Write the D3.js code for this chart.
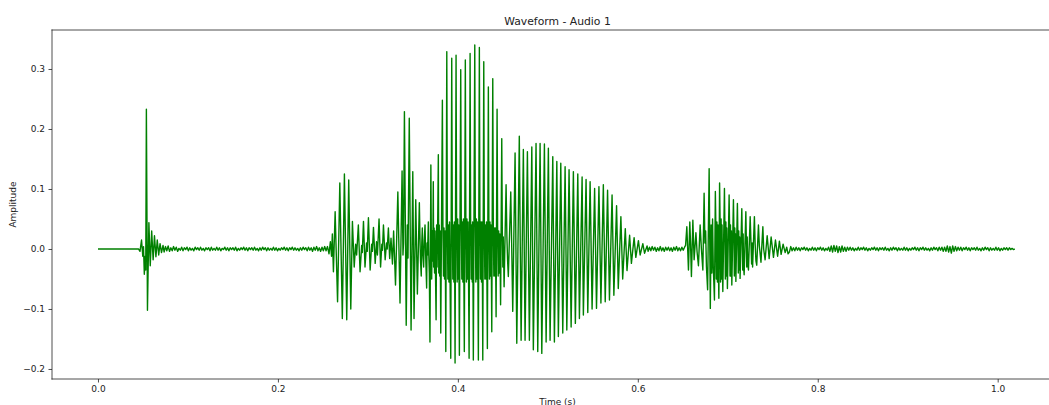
<!DOCTYPE html>
<html>
<head>
<meta charset="utf-8">
<script src="https://cdn.jsdelivr.net/npm/d3@7"></script>
<style>
  html, body { margin: 0; padding: 0; background: #fff; overflow: hidden; }
  svg { display: block; overflow: hidden; font-family: "DejaVu Sans", sans-serif; }
</style>
</head>
<body>
<svg id="chart" width="1049" height="405"></svg>
<script>
// Waveform of "Audio 1".
// Voiced sections: [time (s), amplitude] pairs at the turning points of the trace.
// Quiet sections: amplitudes in thousandths, one every sampleStep seconds from their start time.
const sampleStep = 0.0015;

const leadIn = [[0.0, 0.0], [0.045, 0.0]];

const onsetClick = [
  [0.0467, -0.004], [0.0484, 0.015], [0.0498, -0.012], [0.0506, 0.004], [0.0515, -0.042],
  [0.0525, -0.012], [0.0531, -0.035], [0.0538, 0.233], [0.0550, -0.102], [0.0566, 0.044],
  [0.0581, -0.028], [0.0597, 0.030], [0.0613, -0.018], [0.0628, 0.022], [0.0644, -0.013],
  [0.0659, 0.015], [0.0675, -0.010], [0.0690, 0.009], [0.0706, -0.006], [0.0723, 0.006]
];

const noiseBeforeStart = 0.0735;
const noiseBeforeMilli = [
  -5, 4, -3, 5, -4, 2, -3, 4, -2, 3, -4, 1, -2, 3, -3, 2, -1, 3, -3, 2,
  -2, 1, -3, 3, -1, 2, -2, 3, -2, 1, -3, 2, -1, 2, -3, 3, -2, 1, -2, 3,
  -2, 2, -3, 1, -1, 3, -2, 2, -3, 2, -1, 2, -2, 3, -3, 1, -2, 2, -1, 3,
  -2, 2, -3, 2, -1, 2, -2, 3, -2, 1, -3, 2, -2, 3, -1, 2, -3, 2, -2, 1,
  -2, 3, -2, 2, -3, 1, -2, 2, -1, 3, -2, 2, -3, 2, -1, 3, -2, 2, -2, 1,
  -3, 2, -2, 3, -1, 2, -3, 3, -2, 2, -4, 3, -2, 4, -3, 2, -4, 3, -3, 4, -3
];

const syllableOne = [
  [0.2551, 0.004], [0.2568, -0.008], [0.2583, 0.012], [0.2596, -0.012], [0.2605, 0.025],
  [0.2617, -0.038], [0.2636, 0.062], [0.2663, -0.088], [0.2688, 0.110], [0.2716, -0.116],
  [0.2739, 0.125], [0.2765, -0.118], [0.2787, 0.115], [0.2810, -0.100], [0.2828, 0.046],
  [0.2848, -0.030], [0.2864, 0.008], [0.2875, -0.010], [0.2894, 0.040], [0.2913, -0.038],
  [0.2931, 0.006], [0.2938, -0.006], [0.2951, 0.046], [0.2968, -0.030], [0.2985, 0.010],
  [0.2993, -0.004], [0.3006, 0.052], [0.3025, -0.035], [0.3042, 0.008], [0.3050, -0.004],
  [0.3062, 0.036], [0.3081, -0.024], [0.3096, 0.012], [0.3106, -0.010], [0.3124, 0.050],
  [0.3141, -0.030], [0.3155, 0.008], [0.3162, -0.002], [0.3173, 0.040], [0.3192, -0.018],
  [0.3207, 0.010], [0.3215, 0.000], [0.3228, 0.035], [0.3242, -0.016], [0.3257, 0.018],
  [0.3273, -0.025]
];

const syllableTwo = [
  [0.3286, 0.030], [0.3307, -0.060], [0.3333, 0.095], [0.3357, -0.090], [0.3380, 0.130],
  [0.3390, -0.010], [0.3396, 0.010], [0.3406, 0.229], [0.3426, -0.127], [0.3438, 0.040],
  [0.3446, -0.015], [0.3460, 0.218], [0.3480, -0.135], [0.3499, 0.129], [0.3513, -0.116],
  [0.3532, 0.082], [0.3550, -0.075], [0.3572, 0.077], [0.3580, 0.010], [0.3585, -0.020],
  [0.3593, -0.045], [0.3599, 0.010], [0.3605, 0.035], [0.3612, -0.010], [0.3620, -0.030],
  [0.3627, 0.015], [0.3635, 0.040], [0.3644, -0.020], [0.3653, -0.065], [0.3658, 0.010],
  [0.3663, -0.010], [0.3672, 0.045], [0.3677, -0.010], [0.3683, -0.040], [0.3690, -0.155],
  [0.3700, 0.140], [0.3705, 0.020], [0.3709, -0.050], [0.3715, 0.030], [0.3721, -0.020],
  [0.3727, 0.112], [0.3731, -0.030], [0.3736, 0.035], [0.3741, -0.040], [0.3746, 0.030],
  [0.3751, -0.035], [0.3758, -0.118], [0.3764, 0.040], [0.3769, -0.030], [0.3775, 0.030],
  [0.3783, 0.157], [0.3788, -0.040], [0.3793, 0.040], [0.3798, -0.045], [0.3803, 0.030],
  [0.3810, -0.140], [0.3828, 0.248], [0.3834, 0.040], [0.3840, -0.045], [0.3846, 0.035], [0.3852, -0.050], [0.3858, 0.030], [0.3862, -0.040],
  [0.3866, -0.171], [0.3877, 0.329], [0.3883, 0.045], [0.3889, -0.050], [0.3895, 0.040], [0.3901, -0.055], [0.3907, 0.045], [0.3913, -0.045],
  [0.3921, -0.182], [0.3932, 0.318], [0.3938, 0.050], [0.3944, -0.050], [0.3950, 0.040], [0.3956, -0.055], [0.3961, 0.045], [0.3965, -0.050],
  [0.3969, -0.190], [0.3980, 0.323], [0.3986, 0.045], [0.3992, -0.055], [0.3998, 0.050], [0.4004, -0.050], [0.4009, 0.040], [0.4013, -0.055],
  [0.4017, -0.177], [0.4032, 0.299], [0.4038, 0.050], [0.4044, -0.050], [0.4050, 0.045], [0.4056, -0.055], [0.4062, 0.050], [0.4067, -0.050],
  [0.4072, -0.171], [0.4083, 0.315], [0.4089, 0.045], [0.4095, -0.055], [0.4101, 0.050], [0.4107, -0.050], [0.4113, 0.045], [0.4119, -0.055],
  [0.4125, -0.182], [0.4136, 0.326], [0.4142, 0.050], [0.4148, -0.050], [0.4154, 0.040], [0.4160, -0.055], [0.4164, 0.045], [0.4168, -0.050],
  [0.4172, -0.185], [0.4188, 0.340], [0.4194, 0.045], [0.4200, -0.055], [0.4206, 0.050], [0.4212, -0.050], [0.4218, 0.045], [0.4223, -0.055],
  [0.4228, -0.185], [0.4239, 0.336], [0.4245, 0.050], [0.4251, -0.050], [0.4257, 0.045], [0.4263, -0.055], [0.4268, 0.045], [0.4273, -0.050],
  [0.4277, -0.185], [0.4288, 0.312], [0.4294, 0.045], [0.4300, -0.050], [0.4306, 0.040], [0.4312, -0.050], [0.4318, 0.045], [0.4323, -0.050],
  [0.4328, -0.166], [0.4339, 0.270], [0.4345, 0.040], [0.4351, -0.050], [0.4357, 0.045], [0.4363, -0.045], [0.4368, 0.040], [0.4373, -0.050],
  [0.4377, -0.138], [0.4388, 0.284], [0.4394, 0.040], [0.4400, -0.045], [0.4406, 0.035], [0.4412, -0.045], [0.4417, 0.035], [0.4421, -0.040],
  [0.4425, -0.113], [0.4436, 0.233], [0.4442, 0.035], [0.4448, -0.045], [0.4454, 0.030], [0.4460, -0.040], [0.4466, 0.025], [0.4471, -0.035],
  [0.4475, -0.093], [0.4488, 0.184], [0.4494, 0.030], [0.4500, -0.030], [0.4505, 0.020], [0.4510, -0.025],
  [0.4514, -0.063], [0.4536, 0.107], [0.4545, 0.020], [0.4553, -0.020],
  [0.4561, -0.046], [0.4588, 0.095], [0.4598, 0.010],
  [0.4610, -0.104], [0.4636, 0.160],
  [0.4655, -0.157], [0.4683, 0.188]
];

const syllableThree = [
  [0.4703, -0.152], [0.4728, 0.166], [0.4747, -0.152], [0.4773, 0.162], [0.4795, -0.152],
  [0.4822, 0.170], [0.4839, -0.168], [0.4869, 0.176], [0.4888, -0.171], [0.4914, 0.176],
  [0.4933, -0.174], [0.4962, 0.175], [0.4981, -0.155], [0.5006, 0.168], [0.5025, -0.152],
  [0.5055, 0.154], [0.5073, -0.155], [0.5100, 0.146], [0.5117, -0.146], [0.5144, 0.143],
  [0.5166, -0.140], [0.5192, 0.137], [0.5211, -0.135], [0.5236, 0.132], [0.5259, -0.130],
  [0.5284, 0.129], [0.5306, -0.124], [0.5333, 0.125], [0.5351, -0.116], [0.5381, 0.120],
  [0.5395, -0.110], [0.5425, 0.116], [0.5444, -0.106], [0.5470, 0.112], [0.5492, -0.100],
  [0.5520, 0.101], [0.5541, -0.099], [0.5568, 0.104], [0.5590, -0.090], [0.5617, 0.107],
  [0.5638, -0.088], [0.5664, 0.098], [0.5685, -0.085], [0.5714, 0.090], [0.5734, -0.077],
  [0.5764, 0.072], [0.5783, -0.066], [0.5812, 0.054], [0.5832, -0.050], [0.5861, 0.034],
  [0.5880, -0.036], [0.5909, 0.023], [0.5929, -0.024], [0.5959, 0.019], [0.5978, -0.014],
  [0.6007, 0.014], [0.6026, -0.010], [0.6056, 0.009], [0.6075, -0.007], [0.6103, 0.005]
];

const noiseMiddleStart = 0.6115;
const noiseMiddleMilli = [
  -4, 3, -3, 4, -2, 3, -4, 2, -3, 4, -3, 2, -4, 3, -2, 3, -3, 2, -4, 3, -2, 4, -3, 2, -3, 3, -2, 3
];

const syllableFour = [
  [0.6531, 0.006], [0.6545, 0.037], [0.6563, -0.035], [0.6578, 0.045], [0.6586, 0.010],
  [0.6596, -0.046], [0.6612, 0.048], [0.6626, -0.018], [0.6646, 0.027], [0.6659, -0.005],
  [0.6674, -0.028], [0.6693, 0.040], [0.6707, 0.000], [0.6723, -0.035], [0.6737, 0.093],
  [0.6746, 0.010], [0.6754, 0.030], [0.6763, -0.030], [0.6776, -0.068], [0.6793, 0.134],
  [0.6806, -0.099], [0.6815, 0.040], [0.6823, -0.040], [0.6831, 0.050], [0.6839, -0.030],
  [0.6852, -0.085], [0.6862, 0.096], [0.6868, 0.035], [0.6873, -0.050], [0.6879, 0.045], [0.6885, -0.055], [0.6891, 0.040], [0.6896, -0.035],
  [0.6901, -0.082], [0.6909, 0.110], [0.6915, 0.045], [0.6920, -0.055], [0.6926, 0.050], [0.6931, -0.050], [0.6936, 0.040], [0.6941, -0.035],
  [0.6945, -0.071], [0.6963, 0.101], [0.6968, 0.040], [0.6973, -0.050], [0.6979, 0.045], [0.6984, -0.045], [0.6989, 0.035], [0.6993, -0.030],
  [0.6996, -0.066], [0.7015, 0.090], [0.7020, 0.040], [0.7025, -0.045], [0.7030, 0.040], [0.7035, -0.045], [0.7040, 0.030],
  [0.7045, -0.060], [0.7063, 0.082], [0.7068, 0.035], [0.7073, -0.045], [0.7078, 0.035], [0.7083, -0.040], [0.7087, 0.025],
  [0.7090, -0.054], [0.7107, 0.076], [0.7112, 0.030], [0.7117, -0.040], [0.7122, 0.030], [0.7127, -0.035], [0.7132, 0.020],
  [0.7137, -0.049], [0.7156, 0.067], [0.7161, 0.025], [0.7166, -0.035], [0.7171, 0.025], [0.7176, -0.030],
  [0.7182, -0.043], [0.7201, 0.062], [0.7206, 0.020], [0.7211, -0.030], [0.7216, 0.020], [0.7222, -0.025],
  [0.7230, -0.035], [0.7249, 0.054], [0.7257, 0.015], [0.7265, -0.025], [0.7271, 0.010],
  [0.7276, -0.030], [0.7296, 0.054], [0.7304, 0.010], [0.7313, -0.020],
  [0.7322, -0.027], [0.7341, 0.040], [0.7351, 0.005],
  [0.7369, -0.022], [0.7390, 0.037], [0.7399, 0.000],
  [0.7415, -0.018], [0.7438, 0.022], [0.7460, -0.016], [0.7482, 0.020], [0.7508, -0.014],
  [0.7530, 0.015], [0.7554, -0.012], [0.7574, 0.013], [0.7593, -0.009], [0.7615, 0.008],
  [0.7638, -0.006]
];

const noiseAfterStart = 0.7655;
const noiseAfterMilli = [
  3, -8, -5, 4, -3, 2, -3, 3, -2, 2, -3, 2, -1, 3, -2, 2, -3, 1, -2, 3,
  -2, 2, -3, 2, -1, 3, -2, 2, -3, 1, -2, 3, -4, 5, -5, 6, -4, 5, -6, 4,
  -5, 5, -4, 3, -4, 3, -2, 3, -2, 2, -3, 1, -2, 3, -2, 2, -1, 3, -2, 2,
  -3, 1, -2, 2, -1, 3, -2, 2, -3, 2, -1, 2, -2, 3, -2, 1, -3, 2, -2, 3,
  -1, 2, -3, 2, -2, 1, -2, 3, -2, 2, -3, 1, -2, 2, -1, 3, -2, 2, -3, 2,
  -1, 3, -2, 2, -2, 1, -3, 2, -2, 3, -1, 2, -3, 3, -2, 3, -4, 3, -4, 5,
  -5, 4, -7, 5, -4, 4, -3, 3, -2, 3, -3, 2, -1, 3, -2, 2, -3, 2, -1, 2,
  -2, 3, -2, 1, -3, 2, -2, 3, -1, 2, -3, 2, -2, 1, -2, 3, -2, 2, -3, 1,
  -2, 2, -1, 2, -2, 2, -1, 1, -1, 0
];

const xTickValues = [0.0, 0.2, 0.4, 0.6, 0.8, 1.0];
const yTickValues = [-0.2, -0.1, 0.0, 0.1, 0.2, 0.3];

const chartTitle = "Waveform - Audio 1";
const xLabel = "Time (s)";
const yLabel = "Amplitude";

// ---- assemble the trace ----
function sampled(start, milli) {
  return milli.map((v, i) => [start + i * sampleStep, v / 1000]);
}

const samples = [].concat(
  leadIn, onsetClick,
  sampled(noiseBeforeStart, noiseBeforeMilli),
  syllableOne, syllableTwo, syllableThree,
  sampled(noiseMiddleStart, noiseMiddleMilli),
  syllableFour,
  sampled(noiseAfterStart, noiseAfterMilli)
);

// ---- layout ----
const plot = { left: 52, top: 30, right: 1063, bottom: 379 };

const x = d3.scaleLinear().domain([-0.0511, 1.0726]).range([plot.left, plot.right]);
const y = d3.scaleLinear().domain([-0.2167, 0.365]).range([plot.bottom, plot.top]);

const svg = d3.select("#chart");

svg.append("defs").append("clipPath").attr("id", "plot-clip")
  .append("rect")
  .attr("x", plot.left).attr("y", plot.top)
  .attr("width", plot.right - plot.left).attr("height", plot.bottom - plot.top);

// waveform trace
const line = d3.line().x(d => x(d[0])).y(d => y(d[1]));
svg.append("path")
  .datum(samples)
  .attr("clip-path", "url(#plot-clip)")
  .attr("d", line)
  .attr("fill", "none")
  .attr("stroke", "#008000")
  .attr("stroke-width", 1.4)
  .attr("stroke-linejoin", "round");

// axes
const fmt = d3.format(".1f");
const xAxis = svg.append("g")
  .attr("transform", `translate(0,${plot.bottom})`)
  .call(d3.axisBottom(x).tickValues(xTickValues).tickFormat(fmt).tickSize(3.5).tickPadding(3.5));
const yAxis = svg.append("g")
  .attr("transform", `translate(${plot.left},0)`)
  .call(d3.axisLeft(y).tickValues(yTickValues).tickFormat(fmt).tickSize(3.5).tickPadding(3.5));

[xAxis, yAxis].forEach(g => {
  g.select(".domain").remove();
  g.selectAll(".tick line").attr("stroke", "#222").attr("stroke-width", 0.8);
  g.selectAll(".tick text")
    .attr("fill", "#222")
    .style("font-family", "'DejaVu Sans', sans-serif")
    .style("font-size", "9px");
});

// frame: left, top and bottom spines (the right spine lies past the visible area)
const spines = [
  [[plot.left, plot.top], [plot.left, plot.bottom]],
  [[plot.left, plot.top], [plot.right, plot.top]],
  [[plot.left, plot.bottom], [plot.right, plot.bottom]]
];
svg.append("g").selectAll("line")
  .data(spines)
  .join("line")
  .attr("x1", d => d[0][0]).attr("y1", d => d[0][1])
  .attr("x2", d => d[1][0]).attr("y2", d => d[1][1])
  .attr("stroke", "#222")
  .attr("stroke-width", 0.8)
  .attr("stroke-linecap", "square");

// title and axis labels
const cx = (plot.left + plot.right) / 2;
svg.append("text")
  .attr("x", cx).attr("y", 24.5)
  .attr("text-anchor", "middle")
  .attr("fill", "#222")
  .style("font-size", "10.8px")
  .text(chartTitle);

svg.append("text")
  .attr("x", cx).attr("y", 405)
  .attr("text-anchor", "middle")
  .attr("fill", "#222")
  .style("font-size", "9px")
  .text(xLabel);

svg.append("text")
  .attr("transform", `translate(16,${(plot.top + plot.bottom) / 2}) rotate(-90)`)
  .attr("text-anchor", "middle")
  .attr("fill", "#222")
  .style("font-size", "9px")
  .text(yLabel);
</script>
</body>
</html>
